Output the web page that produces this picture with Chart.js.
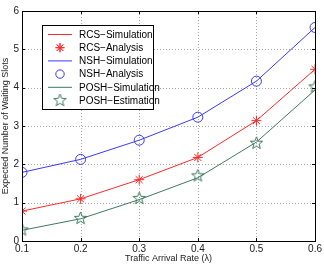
<!DOCTYPE html>
<html><head><meta charset="utf-8">
<script src="https://cdn.jsdelivr.net/npm/chart.js@4/dist/chart.umd.min.js"></script>
<style>html,body{margin:0;padding:0;background:#fff}#w{width:324px;height:265px}</style>
</head><body><div id="w"><canvas id="c"></canvas></div>
<script>
const categories = [0.1, 0.2, 0.3, 0.4, 0.5, 0.6];
const rcsSim = [0.78, 1.10, 1.60, 2.18, 3.14, 4.48];
const rcsAna = [0.78, 1.10, 1.60, 2.18, 3.14, 4.48];
const nshSim = [1.79, 2.13, 2.63, 3.23, 4.17, 5.57];
const nshAna = [1.79, 2.13, 2.63, 3.23, 4.17, 5.57];
const poshSim = [0.28, 0.58, 1.08, 1.65, 2.58, 3.94];
const poshEst = [0.29, 0.59, 1.11, 1.70, 2.55, 4.02];
const xTicks = [0.1, 0.2, 0.3, 0.4, 0.5, 0.6];
const yTicks = [0, 1, 2, 3, 4, 5, 6];

const RED = '#ff2a2a', BLUE = '#3a3aff', GREEN = '#3f7a5e';

function pentagram(color, r) {
  const s = Math.ceil(r * 2 + 4);
  const cv = document.createElement('canvas');
  cv.width = s; cv.height = s;
  const g = cv.getContext('2d');
  g.strokeStyle = color; g.lineWidth = 1;
  g.beginPath();
  const ri = r * 0.42;
  for (let i = 0; i < 10; i++) {
    const a = -Math.PI / 2 + i * Math.PI / 5;
    const rr = i % 2 ? ri : r;
    const x = s / 2 + rr * Math.cos(a), y = s / 2 + rr * Math.sin(a);
    i ? g.lineTo(x, y) : g.moveTo(x, y);
  }
  g.closePath(); g.stroke();
  return cv;
}
const starImg = pentagram(GREEN, 6.5);

const pts = arr => categories.map((x, i) => ({x, y: arr[i]}));

const legendItems = [
  {label: 'RCS\u2212Simulation', type: 'line', color: RED},
  {label: 'RCS\u2212Analysis', type: 'ast', color: RED},
  {label: 'NSH\u2212Simulation', type: 'line', color: BLUE},
  {label: 'NSH\u2212Analysis', type: 'circle', color: BLUE},
  {label: 'POSH\u2212Simulation', type: 'line', color: GREEN},
  {label: 'POSH\u2212Estimation', type: 'star', color: GREEN}
];

const framePlugin = {
  id: 'frame',
  beforeDatasetsDraw(chart) {
    const {ctx, chartArea: a, scales} = chart;
    ctx.save();
    ctx.strokeStyle = '#a8a8a8'; ctx.lineWidth = 1; ctx.setLineDash([1, 2]);
    ctx.beginPath();
    xTicks.forEach(v => {
      const x = Math.round(scales.x.getPixelForValue(v)) + 0.5;
      ctx.moveTo(x, a.top); ctx.lineTo(x, a.bottom);
    });
    yTicks.forEach(v => {
      const y = Math.round(scales.y.getPixelForValue(v)) + 0.5;
      ctx.moveTo(a.left, y); ctx.lineTo(a.right, y);
    });
    ctx.stroke();
    ctx.restore();
  },
  afterDatasetsDraw(chart) {
    const {ctx, chartArea: a, scales} = chart;
    ctx.save();
    ctx.strokeStyle = '#000'; ctx.lineWidth = 1;
    ctx.strokeRect(Math.round(a.left) + 0.5, Math.round(a.top) + 0.5, Math.round(a.right - a.left), Math.round(a.bottom - a.top));
    ctx.beginPath();
    xTicks.forEach(v => {
      const x = Math.round(scales.x.getPixelForValue(v)) + 0.5;
      ctx.moveTo(x, a.bottom); ctx.lineTo(x, a.bottom - 3);
      ctx.moveTo(x, a.top); ctx.lineTo(x, a.top + 3);
    });
    yTicks.forEach(v => {
      const y = Math.round(scales.y.getPixelForValue(v)) + 0.5;
      ctx.moveTo(a.left, y); ctx.lineTo(a.left + 3, y);
      ctx.moveTo(a.right, y); ctx.lineTo(a.right - 3, y);
    });
    ctx.stroke();
    // legend
    const bx = 42.5, by = 25.5, bw = 111, bh = 84;
    ctx.fillStyle = '#fff'; ctx.fillRect(bx, by, bw, bh);
    ctx.strokeStyle = '#000'; ctx.lineWidth = 1; ctx.strokeRect(bx, by, bw, bh);
    ctx.font = '10px "Liberation Sans", Arial, sans-serif';
    ctx.textBaseline = 'middle'; ctx.textAlign = 'left';
    legendItems.forEach((it, i) => {
      const y = 34.5 + i * 13.2;
      ctx.strokeStyle = it.color; ctx.lineWidth = 1;
      if (it.type === 'line') {
        ctx.beginPath(); ctx.moveTo(48, y); ctx.lineTo(72, y); ctx.stroke();
      } else if (it.type === 'ast') {
        Chart.helpers.drawPoint(ctx, {pointStyle: 'star', radius: 4.5, rotation: 0, borderWidth: 1}, 60, y);
        ctx.stroke();
      } else if (it.type === 'circle') {
        ctx.beginPath(); ctx.arc(60, y, 4.2, 0, Math.PI * 2); ctx.stroke();
      } else {
        ctx.drawImage(starImg, 60 - starImg.width / 2, y - starImg.height / 2);
      }
      ctx.fillStyle = '#000';
      ctx.fillText(it.label, 79, y + 0.5);
    });
    ctx.restore();
  }
};

new Chart(document.getElementById('c'), {
  type: 'scatter',
  data: {
    datasets: [
      {data: pts(rcsSim), showLine: true, borderColor: RED, borderWidth: 1, pointRadius: 0, fill: false},
      {data: pts(rcsAna), showLine: false, borderColor: RED, pointStyle: 'star', pointRadius: 5, borderWidth: 1},
      {data: pts(nshSim), showLine: true, borderColor: BLUE, borderWidth: 1, pointRadius: 0, fill: false},
      {data: pts(nshAna), showLine: false, borderColor: BLUE, backgroundColor: 'rgba(0,0,0,0)', pointStyle: 'circle', pointRadius: 5, borderWidth: 1},
      {data: pts(poshSim), showLine: true, borderColor: GREEN, borderWidth: 1, pointRadius: 0, fill: false},
      {data: pts(poshEst), showLine: false, pointStyle: starImg, pointRadius: 6}
    ]
  },
  options: {
    responsive: true, maintainAspectRatio: false, animation: false,
    layout: {padding: {top: 11, right: 8, left: 0, bottom: 0}},
    plugins: {legend: {display: false}, tooltip: {enabled: false}},
    scales: {
      x: {
        type: 'linear', min: 0.1, max: 0.6,
        afterBuildTicks: s => { s.ticks = xTicks.map(v => ({value: v})); },
        afterFit: s => { s.height = 24; },
        ticks: {color: '#222', font: {size: 10, family: '"Liberation Sans", Arial, sans-serif'}, padding: 2, maxRotation: 0, callback: v => v.toFixed(1)},
        grid: {display: false, drawTicks: false, tickLength: 0},
        border: {display: false},
        title: {display: true, text: 'Traffic Arrival Rate (\u03bb)', color: '#222', font: {size: 9, family: '"Liberation Sans", Arial, sans-serif'}, padding: {top: 0, bottom: 1.5}}
      },
      y: {
        type: 'linear', min: 0, max: 6,
        afterBuildTicks: s => { s.ticks = yTicks.map(v => ({value: v})); },
        afterFit: s => { s.width = 22; },
        ticks: {color: '#222', font: {size: 10, family: '"Liberation Sans", Arial, sans-serif'}, padding: 3},
        grid: {display: false, drawTicks: false, tickLength: 0},
        border: {display: false},
        title: {display: true, text: 'Expected Number of Waiting Slots', color: '#222', font: {size: 9, family: '"Liberation Sans", Arial, sans-serif'}, padding: {top: 0, bottom: 0}}
      }
    }
  },
  plugins: [framePlugin]
});
</script>
</body></html>
